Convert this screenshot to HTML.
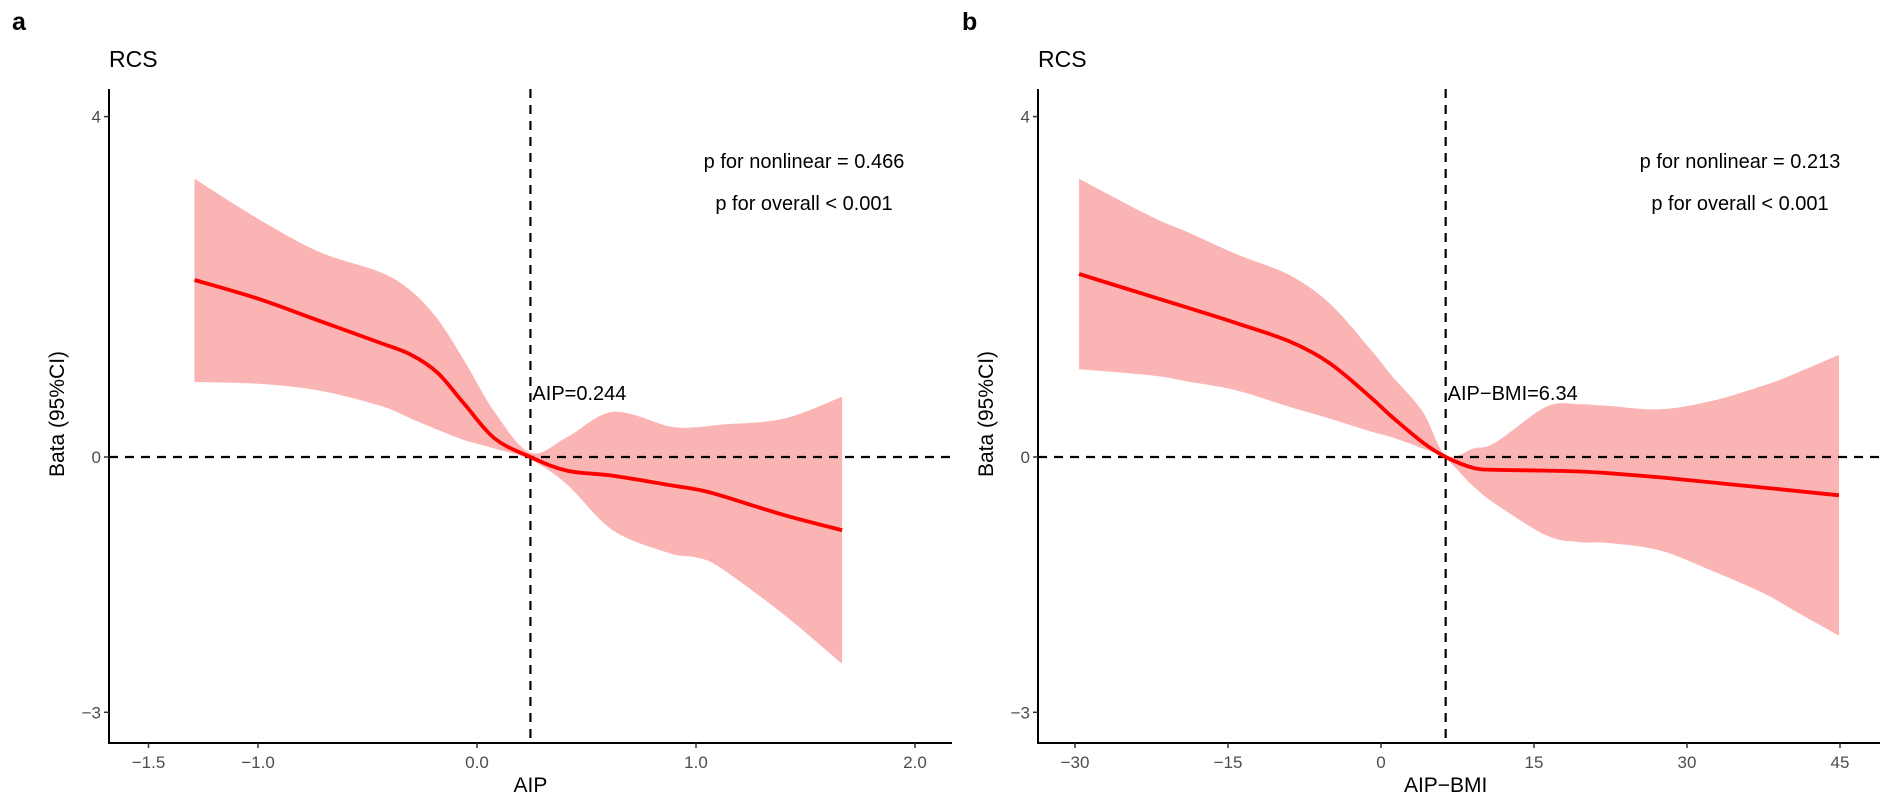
<!DOCTYPE html>
<html><head><meta charset="utf-8"><style>
html,body{margin:0;padding:0;background:#fff;}
svg text{font-family:"Liberation Sans",Arial,sans-serif;}
</style></head><body>
<svg id="fig" width="1901" height="807" viewBox="0 0 1901 807" xmlns="http://www.w3.org/2000/svg"></svg>
<script>
// Panel a data (AIP)
const aX = [-1.29,-1.0,-0.72,-0.44,-0.3,-0.18,-0.06,0.08,0.244,0.41,0.62,0.88,1.0,1.11,1.4,1.667];
const aFit = [2.08,1.86,1.6,1.34,1.2,0.99,0.63,0.22,0,-0.16,-0.22,-0.33,-0.38,-0.45,-0.68,-0.86];
const aUp = [3.27,2.8,2.41,2.17,1.95,1.62,1.14,0.53,0.05,0.23,0.53,0.36,0.35,0.38,0.45,0.71];
const aLo = [0.88,0.86,0.78,0.6,0.45,0.32,0.2,0.1,-0.03,-0.32,-0.86,-1.13,-1.18,-1.3,-1.85,-2.43];
const aTicks = [-1.5,-1.0,0.0,1.0,2.0];
const aTickLabels = ["\u22121.5","\u22121.0","0.0","1.0","2.0"];
const aKnot = 0.244;
// Panel b data (AIP-BMI)
const bX = [-29.6,-22.6,-19.1,-14.1,-9,-5,-1,1.1,4.1,6.34,9.1,11.2,16.2,19.4,22.3,27.4,32.5,37.5,40,44.9];
const bFit = [2.15,1.89,1.76,1.57,1.36,1.1,0.7,0.47,0.17,0,-0.13,-0.15,-0.16,-0.17,-0.19,-0.24,-0.3,-0.36,-0.39,-0.45];
const bUp = [3.27,2.83,2.65,2.38,2.14,1.8,1.26,0.95,0.53,0.02,0.1,0.17,0.59,0.62,0.6,0.56,0.66,0.84,0.95,1.2];
const bLo = [1.03,0.96,0.89,0.78,0.59,0.45,0.3,0.23,0.1,-0.02,-0.35,-0.55,-0.92,-1.0,-1.01,-1.1,-1.34,-1.6,-1.77,-2.1];
const bTicks = [-30,-15,0,15,30,45];
const bTickLabels = ["\u221230","\u221215","0","15","30","45"];
const bKnot = 6.34;
const yTicks = [4,0,-3];
const yTickLabels = ["4","0","\u22123"];

const NS="http://www.w3.org/2000/svg";
const svg=document.getElementById('fig');
function mk(tag,attrs,parent){const e=document.createElementNS(NS,tag);for(const k in attrs)e.setAttribute(k,attrs[k]);(parent||svg).appendChild(e);return e;}
function smooth(pts){let d='M'+pts[0][0].toFixed(1)+','+pts[0][1].toFixed(1);
 for(let i=0;i<pts.length-1;i++){const p0=pts[i-1]||pts[i],p1=pts[i],p2=pts[i+1],p3=pts[i+2]||p2;
  const c1=[p1[0]+(p2[0]-p0[0])/6,p1[1]+(p2[1]-p0[1])/6],c2=[p2[0]-(p3[0]-p1[0])/6,p2[1]-(p3[1]-p1[1])/6];
  d+=' C'+c1[0].toFixed(1)+','+c1[1].toFixed(1)+' '+c2[0].toFixed(1)+','+c2[1].toFixed(1)+' '+p2[0].toFixed(1)+','+p2[1].toFixed(1);}
 return d;}
function yS(v){return 457-85.1*v;}
const AXT=89, AXB=743;

function panel(o){
 const g=mk('g',{});
 
 
 const xs=o.xs;
 let t=mk('text',{x:o.lx,y:30,'font-size':25,'font-weight':'bold',fill:'#000'},g);t.textContent=o.letter;
 
 t=mk('text',{x:o.ax,y:67,'font-size':23,fill:'#000'},g);t.textContent='RCS';
 
 const up=o.X.map((v,i)=>[xs(v),yS(o.U[i])]),lo=o.X.map((v,i)=>[xs(v),yS(o.L[i])]).reverse();
 let d=smooth(up)+' L'+lo[0][0].toFixed(1)+','+lo[0][1].toFixed(1)+smooth(lo).replace(/^M[^C]*/,' ')+' Z';
 let e=mk('path',{d:d,fill:'#fbb4b4',stroke:'none'},g);
 
 e=mk('line',{x1:o.ax,x2:o.aend,y1:yS(0),y2:yS(0),stroke:'#000','stroke-width':2.2,'stroke-dasharray':'9,7'},g);
 
 e=mk('line',{x1:xs(o.knot),x2:xs(o.knot),y1:AXT,y2:AXB,stroke:'#000','stroke-width':2.2,'stroke-dasharray':'9,7'},g);
 
 e=mk('path',{d:smooth(o.X.map((v,i)=>[xs(v),yS(o.F[i])])),fill:'none',stroke:'#f00','stroke-width':3.8},g);
 
 e=mk('line',{x1:o.ax,x2:o.ax,y1:AXT,y2:AXB+1,stroke:'#000','stroke-width':2},g);
 
 e=mk('line',{x1:o.ax-1,x2:o.aend,y1:AXB,y2:AXB,stroke:'#000','stroke-width':2},g);
 
 o.ticks.forEach((v,i)=>{const x=xs(v);
  let tk=mk('line',{x1:x,x2:x,y1:AXB,y2:AXB+5,stroke:'#333','stroke-width':1.5},g);
  
  let tl=mk('text',{x:x,y:AXB+25,'font-size':17,fill:'#4d4d4d','text-anchor':'middle'},g);tl.textContent=o.labels[i];
  });
 yTicks.forEach((v,i)=>{const y=yS(v);
  let tk=mk('line',{x1:o.ax-5,x2:o.ax,y1:y,y2:y,stroke:'#333','stroke-width':1.5},g);
  
  let tl=mk('text',{x:o.ax-8,y:y+6,'font-size':17,fill:'#4d4d4d','text-anchor':'end'},g);tl.textContent=yTickLabels[i];
  });
 t=mk('text',{x:xs(o.knot),y:792,'font-size':21,fill:'#000','text-anchor':'middle'},g);t.textContent=o.xtitle;
 
 t=mk('text',{x:0,y:0,'font-size':21,fill:'#000','text-anchor':'middle',transform:'translate('+(o.ax-45)+',414) rotate(-90)'},g);t.textContent='Bata (95%CI)';
 
 t=mk('text',{x:xs(o.knot)+2,y:400,'font-size':20,fill:'#000'},g);t.textContent=o.knotLabel;
 
 t=mk('text',{x:o.pc,y:168,'font-size':20,fill:'#000','text-anchor':'middle'},g);t.textContent=o.p1;
 
 t=mk('text',{x:o.pc,y:210,'font-size':20,fill:'#000','text-anchor':'middle'},g);t.textContent='p for overall < 0.001';
 
}
panel({name:'panel-a',letter:'a',lx:12,ax:109,aend:952,xs:v=>477+219*v,X:aX,F:aFit,U:aUp,L:aLo,ticks:aTicks,labels:aTickLabels,knot:aKnot,xtitle:'AIP',knotLabel:'AIP=0.244',p1:'p for nonlinear = 0.466',pc:804});
panel({name:'panel-b',letter:'b',lx:962,ax:1038,aend:1880,xs:v=>1381+10.2*v,X:bX,F:bFit,U:bUp,L:bLo,ticks:bTicks,labels:bTickLabels,knot:bKnot,xtitle:'AIP\u2212BMI',knotLabel:'AIP\u2212BMI=6.34',p1:'p for nonlinear = 0.213',pc:1740});
</script>
</body></html>
